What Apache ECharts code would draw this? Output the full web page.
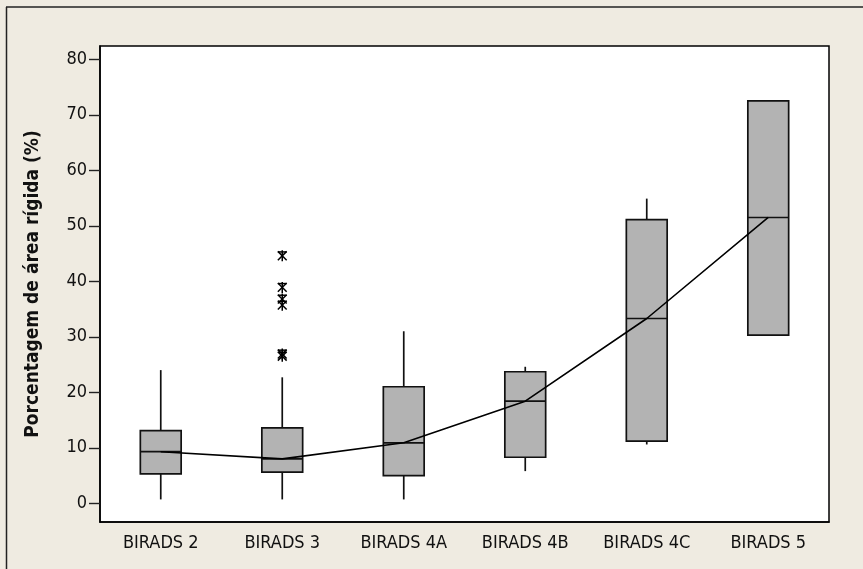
<!DOCTYPE html>
<html>
<head>
<meta charset="utf-8">
<script src="https://cdn.jsdelivr.net/npm/echarts@6/dist/echarts.min.js"></script>
<style>
html,body{margin:0;padding:0;background:#EFEBE1;}
#chart{width:863px;height:569px;}
</style>
</head>
<body>
<div id="chart"></div>
<script>
// ---- data ----
var categories = ['BIRADS 2', 'BIRADS 3', 'BIRADS 4A', 'BIRADS 4B', 'BIRADS 4C', 'BIRADS 5'];
var whiskerLow  = [0.7, 0.7, 0.7, 5.8, 10.6, 30.3];
var q1Values    = [5.3, 5.6, 5.0, 8.3, 11.2, 30.3];
var medians     = [9.3, 8.0, 10.9, 18.4, 33.3, 51.5];
var q3Values    = [13.1, 13.6, 21.0, 23.7, 51.1, 72.5];
var whiskerHigh = [24.0, 22.7, 31.0, 24.6, 54.9, 72.5];
var outlierCategory = [1, 1, 1, 1, 1, 1];
var outlierValues   = [44.6, 38.9, 36.8, 35.7, 26.9, 26.5];
var yTickValues = [0, 10, 20, 30, 40, 50, 60, 70, 80];
var yTitle = 'Porcentagem de área rígida (%)';

var FONT = "'DejaVu Sans Condensed', 'DejaVu Sans', sans-serif";

var boxData = categories.map(function (c, i) {
  return [i, whiskerLow[i], q1Values[i], medians[i], q3Values[i], whiskerHigh[i]];
});
var outlierData = outlierValues.map(function (v, i) {
  return [outlierCategory[i], v];
});

var chart = echarts.init(document.getElementById('chart'));
chart.setOption({
  backgroundColor: '#EFEBE1',
  animation: false,
  graphic: [
    { type: 'line', shape: { x1: 6, y1: 7, x2: 863, y2: 7 }, style: { stroke: '#222', lineWidth: 1.5 } },
    { type: 'line', shape: { x1: 6.5, y1: 7, x2: 6.5, y2: 569 }, style: { stroke: '#222', lineWidth: 1.5 } }
  ],
  grid: {
    left: 100, right: 34, top: 46, bottom: 47,
    show: true, backgroundColor: '#FFFFFF', borderColor: '#000', borderWidth: 1.5
  },
  xAxis: {
    type: 'category',
    data: categories,
    boundaryGap: true,
    axisLine: { onZero: false, lineStyle: { color: '#000', width: 1.5 } },
    axisTick: { alignWithLabel: true, length: 7, lineStyle: { color: '#222', width: 1.4 } },
    axisLabel: { color: '#111', fontSize: 18, fontFamily: FONT, margin: 12 },
    splitLine: { show: false }
  },
  yAxis: {
    type: 'value',
    min: -3.37,
    max: 82.4,
    name: yTitle,
    nameLocation: 'middle',
    nameGap: 57,
    nameTextStyle: { color: '#111', fontSize: 19, fontWeight: 'bold', fontFamily: FONT },
    axisLine: { show: true, onZero: false, lineStyle: { color: '#000', width: 1.5 } },
    axisTick: { show: true, length: 11, customValues: yTickValues, lineStyle: { color: '#222', width: 1.4 } },
    axisLabel: { customValues: yTickValues, color: '#111', fontSize: 18, fontFamily: FONT, margin: 13 },
    splitLine: { show: false }
  },
  series: [
    {
      type: 'custom',
      z: 2,
      data: boxData,
      encode: { x: 0, y: [1, 2, 3, 4, 5] },
      renderItem: function (params, api) {
        var x = api.value(0);
        var pLow = api.coord([x, api.value(1)]);
        var pQ1 = api.coord([x, api.value(2)]);
        var pMed = api.coord([x, api.value(3)]);
        var pQ3 = api.coord([x, api.value(4)]);
        var pHigh = api.coord([x, api.value(5)]);
        var halfW = api.size([1, 0])[0] * 0.168;
        var cx = pMed[0];
        var st = { stroke: '#111', lineWidth: 1.7, fill: null };
        return {
          type: 'group',
          children: [
            { type: 'line', shape: { x1: cx, y1: pHigh[1], x2: cx, y2: pQ3[1] }, style: st },
            { type: 'line', shape: { x1: cx, y1: pQ1[1], x2: cx, y2: pLow[1] }, style: st },
            { type: 'rect', shape: { x: cx - halfW, y: pQ3[1], width: halfW * 2, height: pQ1[1] - pQ3[1] },
              style: { fill: '#B3B3B3', stroke: '#111', lineWidth: 1.7 } },
            { type: 'line', shape: { x1: cx - halfW, y1: pMed[1], x2: cx + halfW, y2: pMed[1] }, style: st }
          ]
        };
      }
    },
    {
      type: 'line',
      z: 3,
      data: medians,
      symbol: 'none',
      lineStyle: { color: '#000', width: 1.6 }
    },
    {
      type: 'custom',
      z: 4,
      data: outlierData,
      encode: { x: 0, y: 1 },
      renderItem: function (params, api) {
        var p = api.coord([api.value(0), api.value(1)]);
        var r = 5.5;
        var st = { stroke: '#000', lineWidth: 1.5 };
        var d = r * 0.8;
        return {
          type: 'group',
          children: [
            { type: 'line', shape: { x1: p[0], y1: p[1] - r, x2: p[0], y2: p[1] + r }, style: st },
            { type: 'line', shape: { x1: p[0] - d, y1: p[1] - d, x2: p[0] + d, y2: p[1] + d }, style: st },
            { type: 'line', shape: { x1: p[0] - d, y1: p[1] + d, x2: p[0] + d, y2: p[1] - d }, style: st },
            { type: 'line', shape: { x1: p[0] - d, y1: p[1] - r * 0.7, x2: p[0] + d, y2: p[1] - r * 0.7 }, style: st }
          ]
        };
      }
    }
  ]
});
</script>
</body>
</html>
